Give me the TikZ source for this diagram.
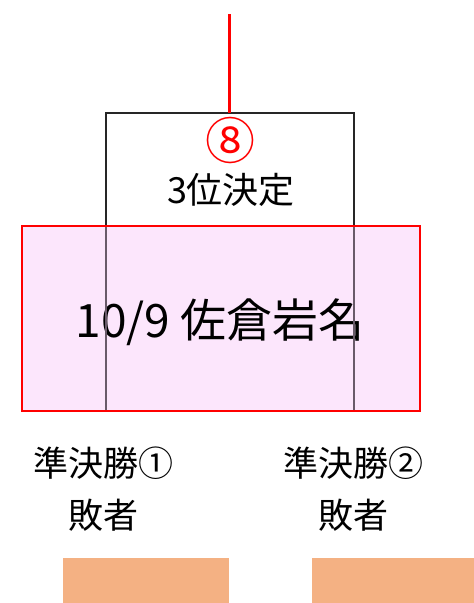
\documentclass[tikz,border=0pt]{standalone}
\usepackage{fontspec}
\setmainfont{Noto Sans CJK JP}
\definecolor{venuefill}{RGB}{252,230,252}
\definecolor{slot}{RGB}{244,177,131}
\definecolor{innerline}{RGB}{105,90,105}
\tikzset{
  bracket/.style={draw=black!85, line width=1.3pt},
  feed/.style={draw=red, line width=2.5pt},
  venue/.style={draw=none, fill=venuefill, minimum width=398pt, minimum height=185pt, inner sep=0pt},
  label/.style={align=center, inner sep=0pt, font=\fontsize{35}{52}\selectfont},
  slotbox/.style={fill=slot, draw=none}
}
\begin{document}
\begin{tikzpicture}[x=1pt,y=-1pt]
\useasboundingbox (0,0) rectangle (474,603);
\fill[white] (0,0) rectangle (474,603);
\coordinate (top) at (229.5,14);
\coordinate (mid) at (229.5,113);
\coordinate (bl) at (106,113);
\coordinate (br) at (354,113);
\coordinate (bld) at (106,410);
\coordinate (brd) at (354,410);
\coordinate (bli) at (106,227);
\coordinate (bri) at (354,227);
\draw[bracket] (bld) -- (bl) -- (br) -- (brd);
\node[venue] (venue) at (221,318.5) {};
\node[inner sep=0pt, font=\fontsize{46}{46}\selectfont] (date) at (220,322) {10/9 佐倉岩名};
\draw[draw=innerline, line width=1.2pt] (bli) -- (bld) (bri) -- (brd);
\draw[draw=red, line width=1.5pt] (venue.north west) rectangle (venue.south east);
\draw[feed] (top) -- (mid);
\node[text=red, inner sep=0pt, font=\fontsize{50}{50}\selectfont] (num) at (230,140) {⑧};
\node[inner sep=0pt, font=\fontsize{36}{36}\selectfont] (title) at (231,190) {3位決定};
\node[label] (l1) at (104,489) {準決勝①\\敗者};
\node[label] (l2) at (353,489) {準決勝②\\敗者};
\path[slotbox] (63,558) rectangle (229,603);
\path[slotbox] (312,558) rectangle (474,603);
\end{tikzpicture}
\end{document}
